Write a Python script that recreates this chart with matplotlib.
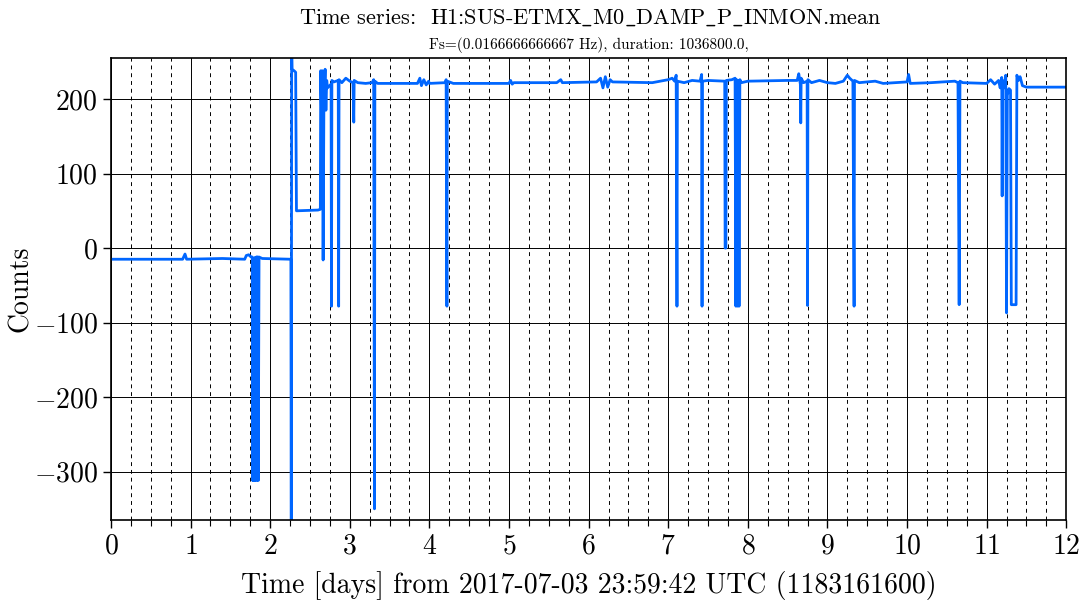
import matplotlib
matplotlib.use("Agg")
import matplotlib.pyplot as plt
from matplotlib.ticker import MultipleLocator

plt.rcParams['font.family'] = ['cmr10', 'DejaVu Serif']
plt.rcParams['mathtext.fontset'] = 'cm'
plt.rcParams['axes.formatter.use_mathtext'] = True

# time in days since 2017-07-03 23:59:42 UTC, value in counts
t_days = [
    0.00, 0.50, 0.90, 0.93, 0.95, 1.40, 1.68, 1.70, 1.73, 1.76,
    1.775, 1.78, 1.785, 1.79, 1.795, 1.80, 1.805, 1.81, 1.815, 1.82,
    1.825, 1.83, 1.835, 1.84, 1.845, 1.85, 1.86, 1.90, 2.26,
    2.265, 2.27, 2.275, 2.30, 2.32, 2.33, 2.60, 2.63,
    2.635, 2.645, 2.655, 2.665, 2.675, 2.69, 2.70, 2.71, 2.72, 2.765,
    2.77, 2.775, 2.80, 2.855, 2.86, 2.865, 2.90, 2.95, 3.00, 3.04,
    3.05, 3.055, 3.10, 3.20, 3.28, 3.30, 3.31, 3.315, 3.35, 3.85,
    3.88, 3.90, 3.93, 3.96, 3.99, 4.00, 4.20, 4.21, 4.22, 4.225,
    4.30, 5.00, 5.02, 5.04, 5.06, 5.60, 5.65, 5.67, 6.10, 6.15,
    6.18, 6.21, 6.24, 6.27, 6.30, 6.80, 6.85, 7.00, 7.05, 7.08,
    7.10, 7.11, 7.115, 7.20, 7.30, 7.40, 7.42, 7.425, 7.43, 7.50,
    7.71, 7.715, 7.725, 7.73, 7.80, 7.84, 7.85, 7.86, 7.87, 7.88,
    7.89, 7.90, 7.92, 8.00, 8.50, 8.62, 8.64, 8.66, 8.665, 8.67,
    8.70, 8.745, 8.75, 8.755, 8.80, 8.90, 9.00, 9.10, 9.20, 9.25,
    9.28, 9.32, 9.335, 9.34, 9.40, 9.60, 9.70, 10.00, 10.02, 10.04,
    10.30, 10.60, 10.64, 10.655, 10.665, 10.70, 11.00, 11.05, 11.10, 11.15,
    11.17, 11.19, 11.195, 11.20, 11.22, 11.24, 11.25, 11.26, 11.28, 11.30,
    11.31, 11.37, 11.38, 11.40, 11.42, 11.45, 11.50, 12.00,
]
counts = [
    -15, -15, -15, -8, -15, -14, -15, -10, -9, -12,
    -12, -312, -15, -312, -14, -311, -13, -312, -13, -311,
    -12, -312, -12, -311, -12, -312, -12, -14, -15,
    -380, 270, 240, 238, 236, 50, 51, 52,
    238, 180, 238, -16, 200, 240, 185, 225, 215, 220,
    -78, 225, 223, 225, -78, 226, 222, 228, 224, 222,
    169, 225, 222, 221, 222, 226, -350, 224, 221, 221,
    228, 218, 226, 219, 224, 221, 222, 226, -78, 224,
    221, 221, 225, 220, 222, 222, 226, 222, 223, 228,
    215, 230, 216, 226, 223, 222, 223, 226, 228, 224,
    232, -78, 224, 222, 225, 224, 233, -78, 224, 225,
    224, 0, 0, 225, 226, 228, -78, 226, -78, 225,
    -78, 226, 222, 224, 225, 225, 234, 220, 168, 228,
    222, 224, -77, 226, 222, 225, 222, 221, 224, 232,
    228, 224, -78, 225, 222, 224, 221, 223, 233, 221,
    222, 224, 222, -76, 224, 222, 221, 226, 220, 225,
    215, 229, 70, 225, 215, 232, -87, 205, 214, 212,
    -76, -76, 232, 225, 230, 218, 216, 216,
]

title = r"Time series:  H1:SUS-ETMX$\_$M0$\_$DAMP$\_$P$\_$INMON.mean"
subtitle = "Fs=(0.0166666666667 Hz), duration: 1036800.0,"
xlabel = "Time [days] from 2017-07-03 23:59:42 UTC (1183161600)"


def main():
    fig = plt.figure(figsize=(10.88, 6.05), dpi=100)
    ax = fig.add_axes([0.102, 0.1405, 0.878, 0.7635])

    ax.plot(t_days, counts, color='#0066ff', lw=2.0)

    ax.set_xlim(0, 12)
    ax.set_ylim(-365, 255)
    ax.xaxis.set_major_locator(MultipleLocator(1))
    ax.xaxis.set_minor_locator(MultipleLocator(0.25))
    ax.yaxis.set_major_locator(MultipleLocator(100))

    ax.grid(True, which='major', color='black', lw=0.7, ls='-')
    ax.grid(True, which='minor', axis='x', color='black', lw=0.7, ls=(0, (4, 4)))
    ax.set_axisbelow(True)

    ax.tick_params(axis='both', which='major', labelsize=20, direction='out', length=6, width=1)
    ax.tick_params(axis='x', which='minor', direction='out', length=4, width=0.8)
    for s in ax.spines.values():
        s.set_linewidth(1.2)

    ax.set_xlabel(xlabel, fontsize=20, labelpad=8)
    ax.set_ylabel("Counts", fontsize=20)
    ax.yaxis.set_label_coords(-0.081, 0.5)

    fig.text(0.543, 0.97, title, ha='center', va='center', fontsize=16)
    fig.text(0.541, 0.925, subtitle, ha='center', va='center', fontsize=11)

    fig.savefig("out.png", dpi=100)


if __name__ == "__main__":
    main()
